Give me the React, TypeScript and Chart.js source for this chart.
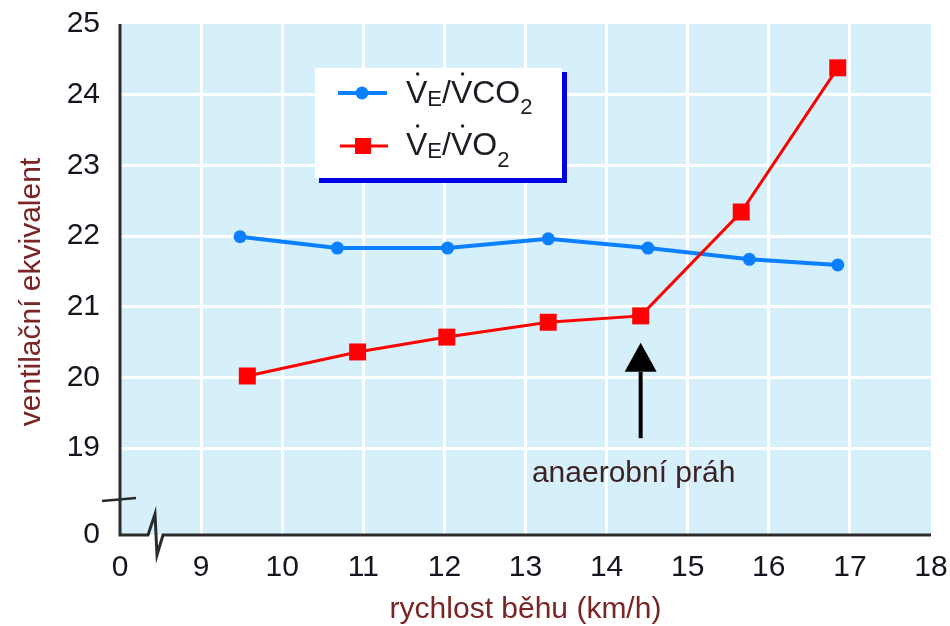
import { useEffect, useRef } from 'react';
import { Chart, ChartConfiguration, registerables } from 'chart.js';

Chart.register(...registerables);

const FONT = '"Liberation Sans", Arial, sans-serif';
const BLUE = '#0a80ff';
const RED = '#ff0000';
const PLOT_BG = '#d5effb';
const AXIS = '#2b2b2b';
const TICK_COLOR = '#151520';
const TITLE_COLOR = '#7a2424';

// osa x: 8 stands for the broken "0" position
const xTickValues = [8, 9, 10, 11, 12, 13, 14, 15, 16, 17, 18];
const xTickLabels = ['0', '9', '10', '11', '12', '13', '14', '15', '16', '17', '18'];
// osa y: 17.77 stands for the broken "0" position
const yTickValues = [17.77, 19, 20, 21, 22, 23, 24, 25];
const yTickLabels = ['0', '19', '20', '21', '22', '23', '24', '25'];

const speedVco2 = [9.48, 10.68, 12.04, 13.28, 14.51, 15.76, 16.85];
const veVco2 = [21.99, 21.83, 21.83, 21.96, 21.83, 21.67, 21.59];
const speedVo2 = [9.57, 10.93, 12.03, 13.28, 14.42, 15.66, 16.85];
const veVo2 = [20.02, 20.36, 20.57, 20.78, 20.87, 22.34, 24.38];

const thresholdSpeed = 14.42;
const arrowTipValue = 20.49;
const arrowBaseValue = 20.08;
const arrowTailValue = 19.14;
const thresholdLabelValue = 18.52;
const thresholdLabel = 'anaerobní práh';

type Part = { t: string; sub?: number; dot?: boolean };

function drawRich(ctx: CanvasRenderingContext2D, x: number, base: number, parts: Part[]) {
  let cx = x;
  for (const p of parts) {
    const size = p.sub !== undefined ? 22 : 32;
    ctx.font = `${size}px ${FONT}`;
    const w = ctx.measureText(p.t).width;
    const by = base + (p.sub ?? 0);
    ctx.fillText(p.t, cx, by);
    if (p.dot) {
      ctx.beginPath();
      ctx.arc(cx + w / 2 + 1, by - 29, 1.7, 0, Math.PI * 2);
      ctx.fill();
    }
    cx += w;
  }
}

const decorPlugin = {
  id: 'decor',
  beforeDraw(chart: Chart) {
    const { ctx, chartArea: a } = chart;
    ctx.save();
    ctx.fillStyle = PLOT_BG;
    ctx.fillRect(a.left, a.top, a.right - a.left, a.bottom - a.top);
    ctx.restore();
  },
  afterDraw(chart: Chart) {
    const { ctx, chartArea: a, scales } = chart;
    const sx = scales.x;
    const sy = scales.y;
    ctx.save();

    // axes with breaks
    ctx.strokeStyle = AXIS;
    ctx.lineWidth = 3;
    ctx.lineJoin = 'miter';
    ctx.beginPath();
    ctx.moveTo(a.left, a.top);
    ctx.lineTo(a.left, a.bottom);
    ctx.lineTo(a.left + 28, a.bottom);
    ctx.lineTo(a.left + 35, a.bottom - 21);
    ctx.lineTo(a.left + 37, a.bottom + 20);
    ctx.lineTo(a.left + 43, a.bottom);
    ctx.lineTo(a.right, a.bottom);
    ctx.stroke();
    ctx.lineWidth = 2.5;
    ctx.beginPath();
    ctx.moveTo(a.left - 18, a.bottom - 34);
    ctx.lineTo(a.left + 16, a.bottom - 37);
    ctx.stroke();

    // threshold arrow
    const ax = sx.getPixelForValue(thresholdSpeed);
    const tipY = sy.getPixelForValue(arrowTipValue);
    const baseY = sy.getPixelForValue(arrowBaseValue);
    const tailY = sy.getPixelForValue(arrowTailValue);
    ctx.strokeStyle = '#000';
    ctx.fillStyle = '#000';
    ctx.lineWidth = 4;
    ctx.beginPath();
    ctx.moveTo(ax, baseY);
    ctx.lineTo(ax, tailY);
    ctx.stroke();
    ctx.beginPath();
    ctx.moveTo(ax, tipY);
    ctx.lineTo(ax - 16, baseY);
    ctx.lineTo(ax + 16, baseY);
    ctx.closePath();
    ctx.fill();

    ctx.fillStyle = '#3c2222';
    ctx.font = `30px ${FONT}`;
    ctx.textAlign = 'center';
    ctx.textBaseline = 'alphabetic';
    ctx.fillText(thresholdLabel, ax - 7, sy.getPixelForValue(thresholdLabelValue));

    // y title
    ctx.fillStyle = TITLE_COLOR;
    ctx.translate(32, 292);
    ctx.rotate(-Math.PI / 2);
    ctx.textBaseline = 'middle';
    ctx.fillText('ventilační ekvivalent', 0, 0);
    ctx.setTransform(1, 0, 0, 1, 0, 0);
    ctx.restore();

    // legend
    ctx.save();
    const lx = a.left + 195;
    const ly = a.top + 44;
    ctx.fillStyle = '#0000e6';
    ctx.fillRect(lx + 4, ly + 4, 248, 111);
    ctx.fillStyle = '#ffffff';
    ctx.fillRect(lx, ly, 247, 110);

    ctx.lineWidth = 4;
    ctx.strokeStyle = BLUE;
    ctx.beginPath();
    ctx.moveTo(lx + 23, ly + 25);
    ctx.lineTo(lx + 72, ly + 25);
    ctx.stroke();
    ctx.fillStyle = BLUE;
    ctx.beginPath();
    ctx.arc(lx + 47, ly + 25, 6.5, 0, Math.PI * 2);
    ctx.fill();

    ctx.lineWidth = 3;
    ctx.strokeStyle = RED;
    ctx.beginPath();
    ctx.moveTo(lx + 25, ly + 78);
    ctx.lineTo(lx + 73, ly + 78);
    ctx.stroke();
    ctx.fillStyle = RED;
    ctx.fillRect(lx + 40, ly + 70, 16, 16);

    ctx.fillStyle = '#1c1c24';
    ctx.textAlign = 'left';
    ctx.textBaseline = 'alphabetic';
    drawRich(ctx, lx + 91, ly + 35, [
      { t: 'V', dot: true },
      { t: 'E', sub: 3 },
      { t: '/' },
      { t: 'V', dot: true },
      { t: 'CO' },
      { t: '2', sub: 11 },
    ]);
    drawRich(ctx, lx + 91, ly + 87, [
      { t: 'V', dot: true },
      { t: 'E', sub: 3 },
      { t: '/' },
      { t: 'V', dot: true },
      { t: 'O' },
      { t: '2', sub: 12 },
    ]);
    ctx.restore();
  },
};

export default function App() {
  const canvasRef = useRef<HTMLCanvasElement | null>(null);
  const chartRef = useRef<Chart | null>(null);

  useEffect(() => {
    document.body.style.margin = '0';
    if (!canvasRef.current) {
      return;
    }
    const ctx = canvasRef.current.getContext('2d');
    if (!ctx) {
      return;
    }
    const tickFont = { family: FONT, size: 30 };
    const config: ChartConfiguration<'line'> = {
      type: 'line',
      data: {
        datasets: [
          {
            label: 'VE/VO2',
            data: speedVo2.map((x, i) => ({ x, y: veVo2[i] })),
            borderColor: RED,
            backgroundColor: RED,
            borderWidth: 3,
            pointStyle: 'rect',
            pointRadius: 12,
            pointBorderWidth: 0,
            tension: 0,
          },
          {
            label: 'VE/VCO2',
            data: speedVco2.map((x, i) => ({ x, y: veVco2[i] })),
            borderColor: BLUE,
            backgroundColor: BLUE,
            borderWidth: 4,
            pointStyle: 'circle',
            pointRadius: 6.5,
            pointBorderWidth: 0,
            tension: 0,
          },
        ],
      },
      options: {
        animation: false,
        responsive: true,
        maintainAspectRatio: false,
        layout: { padding: { top: 24, right: 19, left: 0, bottom: 0 } },
        plugins: {
          legend: { display: false },
          tooltip: { enabled: false },
        },
        scales: {
          x: {
            type: 'linear',
            min: 8,
            max: 18,
            afterBuildTicks: (scale) => {
              scale.ticks = xTickValues.map((value) => ({ value }));
            },
            afterFit: (scale) => {
              scale.height = 91;
              scale.paddingLeft = 0;
              scale.paddingRight = 0;
            },
            border: { display: false },
            grid: {
              color: (c) => (c.tick && (c.tick.value === 8 || c.tick.value === 18) ? 'rgba(0,0,0,0)' : '#ffffff'),
              lineWidth: 3,
              drawTicks: false,
            },
            ticks: {
              callback: (_v, i) => xTickLabels[i],
              autoSkip: false,
              maxRotation: 0,
              padding: 15,
              color: TICK_COLOR,
              font: tickFont,
            },
            title: {
              display: true,
              text: 'rychlost běhu (km/h)',
              color: TITLE_COLOR,
              font: { family: FONT, size: 30, lineHeight: '32px' },
              padding: 0,
            },
          },
          y: {
            type: 'linear',
            min: 17.77,
            max: 25,
            afterBuildTicks: (scale) => {
              scale.ticks = yTickValues.map((value) => ({ value }));
            },
            afterFit: (scale) => {
              scale.width = 120;
              scale.paddingTop = 0;
              scale.paddingBottom = 0;
            },
            border: { display: false },
            grid: {
              color: (c) => (c.tick && (c.tick.value < 18.5 || c.tick.value === 25) ? 'rgba(0,0,0,0)' : '#ffffff'),
              lineWidth: 3,
              drawTicks: false,
            },
            ticks: {
              callback: (_v, i) => yTickLabels[i],
              autoSkip: false,
              padding: 20,
              color: TICK_COLOR,
              font: tickFont,
            },
          },
        },
      },
      plugins: [decorPlugin],
    };

    if (chartRef.current) {
      chartRef.current.destroy();
    }
    chartRef.current = new Chart(ctx, config);

    return () => {
      chartRef.current?.destroy();
      chartRef.current = null;
    };
  }, []);

  return (
    <div style={{ width: '950px', height: '626px', position: 'relative' }}>
      <canvas ref={canvasRef} aria-label="ventilační ekvivalent" role="img" />
    </div>
  );
}
